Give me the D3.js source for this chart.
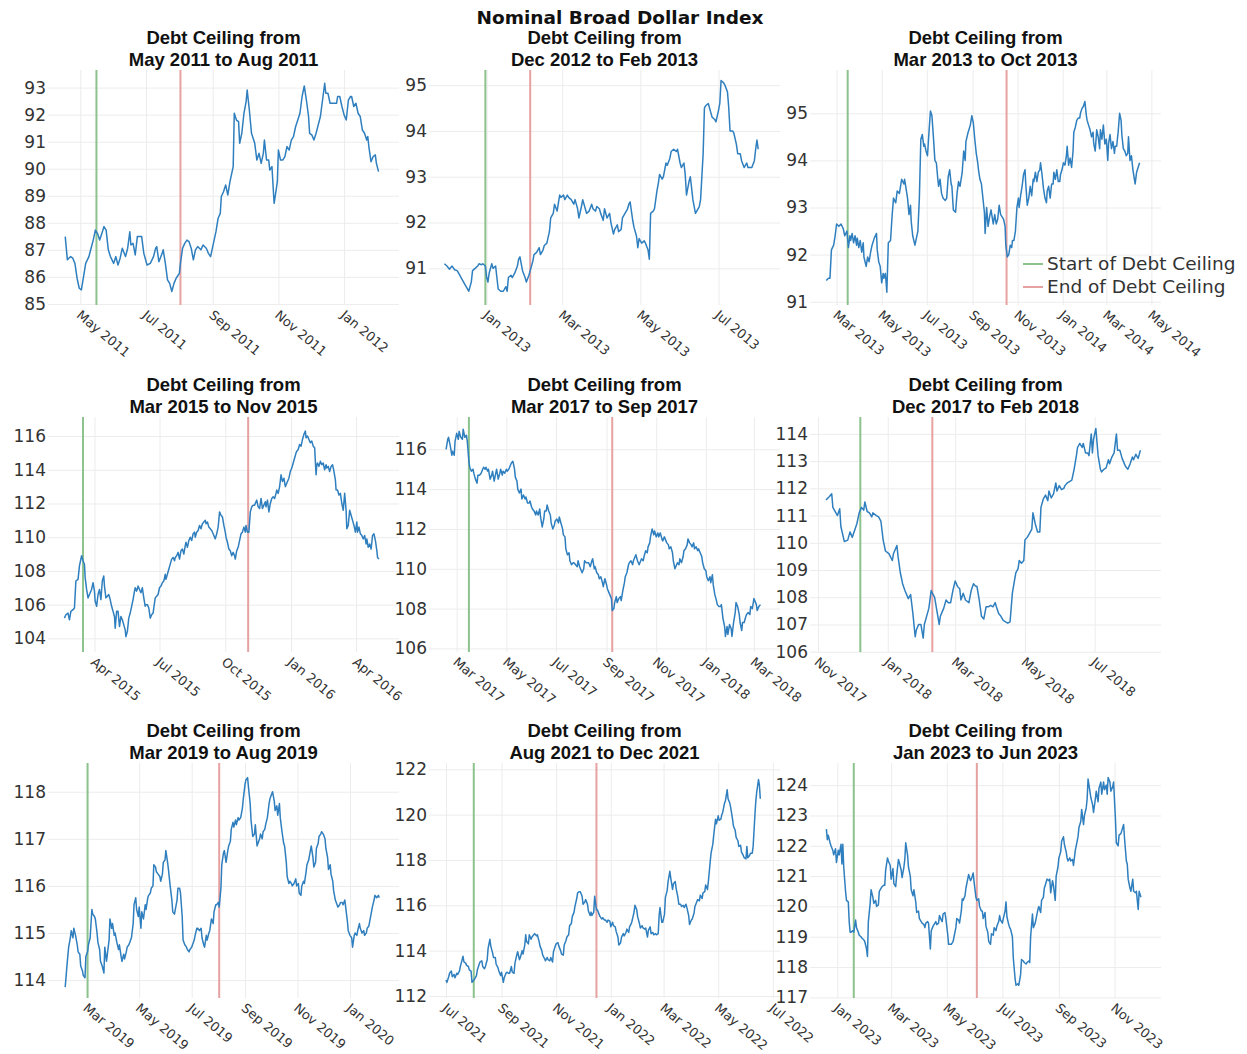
<!DOCTYPE html>
<html>
<head>
<meta charset="utf-8">
<script src="https://cdn.jsdelivr.net/npm/d3@7"></script>
<style>
  html, body { margin: 0; padding: 0; background: #ffffff; }
  svg { display: block; }
</style>
</head>
<body>
<svg id="chart" width="1247" height="1054"></svg>
<script>
// ---------------------------------------------------------------------------
// Data: Nominal Broad Dollar Index around each debt-ceiling episode.
// Each series is a list of [days since its first observation, index level].
// ---------------------------------------------------------------------------
const chartTitle = "Nominal Broad Dollar Index";
const subtitleLead = "Debt Ceiling from";
const episodeLabels = [
  "May 2011 to Aug 2011", "Dec 2012 to Feb 2013", "Mar 2013 to Oct 2013",
  "Mar 2015 to Nov 2015", "Mar 2017 to Sep 2017", "Dec 2017 to Feb 2018",
  "Mar 2019 to Aug 2019", "Aug 2021 to Dec 2021", "Jan 2023 to Jun 2023"
];
const legendLabels = ["Start of Debt Ceiling", "End of Debt Ceiling"];

const seriesStarts = [
  "2011-04-17", "2012-11-29", "2013-02-15",
  "2015-02-18", "2017-02-16", "2017-11-08",
  "2019-02-04", "2021-07-01", "2022-12-20"
];

const ceilingStarts = [
  "2011-05-16", "2012-12-31", "2013-03-16",
  "2015-03-16", "2017-03-16", "2017-12-08",
  "2019-03-02", "2021-08-01", "2023-01-19"
];
const ceilingEnds = [
  "2011-08-02", "2013-02-04", "2013-10-17",
  "2015-11-02", "2017-09-08", "2018-02-09",
  "2019-08-02", "2021-12-16", "2023-06-03"
];

const series2011 = [[0,87.49],[2,86.63],[5,86.75],[7,86.69],[9,86.5],[11,85.95],[13,85.58],[15,85.52],[18,86.25],[19,86.5],[22,86.75],[24,87.06],[26,87.36],[28,87.73],[30,87.6],[32,87.36],[34,87.6],[36,87.86],[38,87.73],[40,87.0],[42,86.75],[45,86.5],[47,86.75],[49,86.44],[51,86.69],[53,87.06],[56,86.75],[58,87.06],[60,87.67],[61,87.18],[63,87.24],[65,86.81],[67,87.49],[71,87.49],[73,86.87],[76,86.44],[79,86.5],[82,86.75],[84,87.06],[85,87.12],[87,86.56],[90,86.87],[91,87.0],[93,86.5],[95,85.89],[97,85.76],[99,85.46],[101,85.76],[103,85.95],[106,86.13],[107,86.5],[109,87.06],[111,87.24],[113,87.36],[115,87.3],[117,87.06],[119,86.63],[121,87.0],[123,87.12],[126,87.0],[128,87.18],[131,87.06],[133,86.87],[135,86.75],[137,87.12],[140,87.67],[142,88.17],[144,88.35],[145,88.97],[147,89.15],[149,89.4],[151,89.03],[153,89.52],[155,89.89],[156,90.08],[157,92.05],[159,91.8],[161,91.74],[162,90.94],[164,91.31],[166,92.05],[168,92.48],[169,92.91],[171,92.17],[173,91.31],[174,91.19],[176,90.94],[178,90.32],[180,90.57],[182,90.2],[184,90.57],[185,91.06],[187,90.32],[189,90.32],[190,89.95],[192,90.08],[194,88.72],[195,88.97],[197,89.52],[198,90.69],[200,90.32],[202,90.32],[204,90.45],[206,90.82],[208,90.69],[210,91.06],[212,91.19],[214,91.56],[216,91.8],[218,92.05],[220,92.67],[222,93.06],[224,92.54],[226,91.93],[227,91.31],[229,91.25],[231,91.06],[233,91.31],[235,91.62],[237,91.93],[239,92.54],[241,93.16],[242,92.79],[244,92.79],[246,92.42],[248,92.42],[252,92.42],[253,92.67],[255,92.67],[257,92.3],[259,91.99],[261,91.8],[263,92.54],[265,92.67],[266,92.67],[268,92.3],[270,92.42],[272,92.05],[274,91.93],[276,91.43],[278,91.31],[280,91.06],[281,91.19],[282,90.82],[284,90.26],[286,90.45],[288,90.51],[289,90.2],[291,89.89]];

const series2012 = [[0,91.1],[2,91.05],[4,90.98],[5,91.02],[6,91.05],[8,90.97],[10,90.95],[12,90.85],[14,90.75],[16,90.65],[18,90.55],[19,90.5],[21,90.7],[22,90.95],[24,91.0],[26,91.05],[27,91.1],[29,91.08],[30,91.1],[32,91.05],[33,90.8],[34,90.7],[35,90.9],[37,91.1],[38,91.0],[40,91.05],[41,90.8],[42,90.55],[44,90.5],[46,90.5],[48,90.6],[49,90.5],[50,90.8],[52,90.85],[53,90.8],[55,90.9],[57,91.05],[58,91.2],[59,91.25],[61,90.95],[63,90.8],[64,90.7],[66,90.85],[67,90.95],[69,91.15],[70,91.3],[72,91.35],[74,91.45],[75,91.3],[77,91.4],[78,91.5],[80,91.55],[82,91.8],[83,92.1],[85,92.2],[86,92.4],[88,92.25],[90,92.6],[91,92.55],[93,92.6],[94,92.5],[96,92.6],[97,92.55],[99,92.5],[101,92.4],[102,92.5],[104,92.3],[105,92.1],[107,92.35],[108,92.5],[110,92.3],[111,92.2],[113,92.25],[115,92.4],[116,92.3],[118,92.25],[119,92.35],[121,92.3],[122,92.2],[124,92.05],[125,92.3],[127,92.1],[129,92.2],[130,92.0],[132,91.75],[133,91.85],[135,91.95],[136,91.8],[138,91.85],[139,92.1],[141,92.2],[143,92.3],[144,92.4],[145,92.45],[147,92.05],[148,91.9],[150,91.7],[151,91.45],[152,91.65],[154,91.55],[156,91.6],[157,91.55],[159,91.4],[160,91.2],[161,92.2],[163,92.25],[164,92.3],[166,92.7],[167,92.85],[168,93.05],[170,92.95],[171,93.0],[173,93.3],[174,93.25],[176,93.4],[177,93.55],[179,93.6],[181,93.55],[182,93.6],[184,93.3],[185,93.2],[187,93.3],[188,93.05],[189,92.6],[191,92.9],[192,93.0],[194,92.5],[196,92.2],[197,92.25],[199,92.35],[200,92.5],[202,93.5],[203,94.5],[204,94.55],[206,94.6],[208,94.4],[209,94.3],[211,94.25],[212,94.2],[214,94.45],[215,94.6],[216,95.1],[218,95.05],[219,95.0],[221,94.85],[222,94.5],[223,94.0],[225,94.0],[226,93.95],[228,93.7],[229,93.5],[231,93.5],[232,93.35],[234,93.2],[236,93.3],[237,93.2],[239,93.2],[240,93.2],[242,93.35],[243,93.6],[244,93.8],[245,93.6]];

const series2013 = [[0,91.45],[3,91.5],[5,91.5],[7,92.1],[10,92.2],[12,92.4],[14,92.65],[17,92.6],[20,92.65],[23,92.55],[25,92.4],[28,92.5],[30,92.15],[32,92.4],[33,92.3],[35,92.45],[37,92.25],[39,92.4],[41,92.2],[42,92.35],[44,92.15],[46,92.3],[48,92.05],[50,92.25],[51,91.95],[54,91.75],[56,91.95],[58,91.85],[60,92.05],[62,92.2],[65,92.35],[68,92.45],[69,92.1],[71,91.85],[73,91.75],[75,91.4],[77,91.6],[78,91.5],[80,91.6],[82,91.2],[84,92.25],[87,92.3],[89,92.8],[91,93.2],[94,93.1],[96,93.35],[99,93.3],[102,93.6],[105,93.5],[106,93.6],[108,93.4],[110,93.2],[112,92.85],[114,93.05],[115,92.7],[117,92.4],[120,92.2],[122,92.35],[124,92.5],[126,93.2],[128,94.45],[130,94.55],[132,94.3],[133,94.35],[135,94.2],[137,94.1],[139,94.6],[141,95.05],[143,94.95],[145,94.5],[147,94.0],[149,93.95],[151,93.6],[152,93.45],[154,93.6],[156,93.3],[158,93.2],[161,93.15],[163,93.2],[165,93.65],[167,93.8],[169,93.5],[170,93.45],[172,92.95],[175,92.9],[177,93.3],[179,93.55],[181,93.45],[184,93.75],[186,94.2],[188,94.0],[189,94.4],[192,94.6],[195,94.75],[197,94.95],[199,94.8],[201,94.45],[203,94.15],[205,93.95],[206,93.8],[208,93.6],[210,93.5],[212,93.2],[214,92.9],[215,92.45],[217,93.0],[219,92.6],[221,92.8],[223,92.95],[225,92.75],[226,92.65],[228,92.85],[230,92.65],[232,92.75],[234,93.05],[236,92.85],[238,92.8],[240,92.75],[242,92.6],[243,92.2],[245,91.95],[247,92.0],[249,92.2],[251,92.15],[252,92.3],[254,92.3],[256,92.5],[258,93.0],[260,93.2],[261,93.0],[263,93.25],[265,93.45],[267,93.7],[269,93.8],[270,93.5],[272,93.05],[274,93.2],[276,93.45],[278,93.25],[280,93.6],[281,93.55],[283,93.75],[285,93.55],[287,93.75],[289,93.8],[290,93.95],[292,93.7],[294,93.4],[296,93.2],[298,93.1],[299,93.35],[301,93.45],[303,93.2],[305,93.5],[307,93.5],[308,93.75],[310,93.6],[312,93.8],[314,93.55],[316,93.55],[317,93.7],[319,93.8],[321,93.95],[323,93.9],[325,94.1],[326,94.3],[328,93.9],[330,94.05],[332,93.85],[334,94.2],[335,94.6],[337,94.7],[339,94.85],[341,94.9],[343,94.9],[344,95.0],[346,95.1],[348,95.15],[350,95.25],[352,94.95],[353,94.85],[355,94.75],[357,94.65],[359,94.5],[361,94.6],[362,94.35],[364,94.2],[366,94.65],[368,94.5],[370,94.25],[371,94.65],[373,94.45],[375,94.75],[377,94.35],[379,94.45],[381,94.0],[382,94.35],[384,94.55],[386,94.25],[388,94.4],[390,94.15],[391,94.3],[393,94.3],[395,94.6],[397,95.0],[399,94.85],[400,94.55],[402,94.25],[404,94.2],[406,94.1],[408,94.15],[409,94.5],[411,94.0],[413,94.1],[415,93.8],[417,93.6],[418,93.5],[420,93.75],[422,93.85],[424,93.95]];

const series2015 = [[0,105.2],[2,105.4],[5,105.5],[7,105.1],[9,105.6],[12,105.7],[14,105.8],[16,107.4],[19,107.5],[21,108.3],[24,108.9],[26,108.6],[28,108.4],[29,107.6],[31,106.9],[33,106.4],[35,106.6],[38,106.9],[40,107.3],[42,106.8],[43,106.2],[45,105.9],[47,106.6],[49,106.9],[51,106.3],[53,107.4],[55,107.7],[56,107.1],[58,106.4],[60,106.5],[62,106.6],[64,106.3],[66,105.9],[68,105.6],[70,105.3],[71,104.6],[73,105.6],[75,105.6],[77,104.7],[79,105.3],[81,105.1],[83,104.8],[85,104.5],[86,104.1],[88,104.4],[90,105.2],[92,105.5],[94,105.9],[96,106.3],[98,106.8],[99,107.0],[101,106.8],[103,107.1],[105,106.9],[107,106.7],[109,107.0],[111,106.4],[113,105.9],[114,106.0],[116,106.0],[118,105.8],[120,105.2],[122,105.4],[124,105.5],[126,106.1],[127,106.4],[129,106.5],[131,106.6],[133,107.0],[135,107.1],[137,107.3],[139,107.4],[141,107.8],[142,107.5],[144,107.8],[146,108.1],[148,108.4],[150,108.7],[152,108.8],[154,108.6],[155,108.8],[157,108.9],[159,109.1],[161,108.7],[163,109.2],[165,109.3],[167,109.0],[169,109.5],[170,109.7],[172,109.4],[174,109.8],[176,110.0],[178,109.8],[180,110.2],[182,110.3],[183,110.0],[185,110.3],[187,110.4],[189,110.7],[191,110.5],[193,110.8],[195,110.9],[197,111.0],[198,110.8],[200,110.9],[202,110.6],[204,110.5],[206,110.4],[208,110.2],[210,110.0],[211,109.9],[213,110.2],[215,110.6],[217,111.5],[219,111.3],[221,111.2],[223,110.7],[225,110.3],[226,110.0],[228,109.7],[230,109.3],[232,109.2],[234,108.9],[236,109.1],[238,108.9],[239,108.7],[241,109.2],[243,109.4],[245,109.8],[247,110.2],[249,110.3],[251,110.6],[253,110.3],[254,110.7],[256,110.3],[258,110.3],[260,111.5],[262,111.8],[264,111.9],[266,111.9],[268,112.1],[269,112.2],[271,111.8],[273,111.7],[275,112.3],[277,111.7],[279,111.9],[281,112.1],[282,111.8],[284,112.2],[286,111.5],[288,112.0],[290,112.3],[292,112.4],[294,112.3],[296,112.6],[297,112.8],[299,112.6],[301,113.0],[303,113.7],[305,113.3],[307,113.5],[309,113.0],[310,113.1],[312,113.3],[314,113.5],[316,113.9],[318,114.1],[320,114.4],[322,114.7],[324,115.0],[325,115.1],[327,115.2],[329,115.5],[331,115.4],[333,115.8],[335,116.1],[337,116.3],[338,115.9],[340,116.0],[342,115.8],[344,115.6],[346,115.7],[348,115.4],[350,115.3],[352,113.7],[353,114.3],[354,114.4],[356,114.2],[358,114.5],[360,114.3],[362,114.4],[364,114.0],[366,114.3],[367,114.1],[369,114.2],[371,113.9],[373,114.2],[375,114.3],[377,113.9],[379,113.4],[380,112.8],[382,112.8],[384,112.5],[386,112.6],[388,112.0],[390,111.6],[392,112.6],[394,111.6],[395,110.5],[397,110.7],[399,111.6],[401,111.3],[403,111.0],[405,110.7],[407,110.3],[409,110.9],[410,110.3],[412,110.6],[414,110.2],[416,110.1],[418,109.9],[420,110.1],[422,109.6],[423,109.9],[425,109.4],[427,109.6],[429,109.3],[431,110.1],[433,110.2],[435,109.8],[437,109.2],[438,108.8],[440,108.7]];

const series2017 = [[0,116.0],[2,116.5],[3,116.6],[5,116.2],[7,115.7],[8,115.9],[10,115.7],[11,116.4],[13,116.8],[15,116.5],[16,116.9],[18,116.6],[20,116.5],[21,117.0],[23,116.6],[25,116.7],[26,116.4],[28,115.4],[29,115.1],[31,114.9],[33,115.0],[34,114.8],[36,114.5],[38,114.3],[39,114.7],[41,114.7],[43,114.8],[44,114.9],[46,115.1],[48,115.0],[49,115.1],[51,114.9],[52,115.0],[54,114.5],[56,114.7],[57,114.9],[59,114.4],[61,114.8],[62,115.0],[64,114.5],[66,114.8],[67,115.0],[69,114.7],[70,114.9],[72,114.8],[74,115.0],[75,114.9],[77,115.0],[79,115.2],[80,115.3],[82,115.4],[84,115.0],[85,114.6],[87,114.4],[88,114.0],[90,113.8],[92,114.0],[93,113.5],[95,113.7],[97,113.5],[98,113.6],[100,113.3],[102,113.3],[103,113.4],[105,113.1],[106,113.0],[108,112.9],[110,112.7],[111,112.9],[113,112.7],[115,113.0],[116,112.6],[118,112.1],[120,112.5],[121,112.9],[123,112.9],[124,113.2],[126,112.9],[128,112.7],[129,112.3],[131,112.0],[133,112.2],[134,112.4],[136,112.5],[138,112.3],[139,112.6],[141,112.3],[143,112.0],[144,111.7],[146,111.6],[147,111.0],[149,110.7],[151,110.8],[152,110.4],[154,110.2],[156,110.3],[157,110.3],[159,110.2],[161,110.1],[162,110.4],[164,110.1],[165,110.0],[167,109.8],[169,110.0],[170,110.4],[172,110.3],[174,110.3],[175,110.3],[177,110.1],[179,110.4],[180,110.5],[182,110.0],[183,110.1],[185,109.8],[187,109.7],[188,109.5],[190,109.6],[192,109.3],[193,109.1],[195,109.5],[197,109.2],[198,109.0],[200,108.8],[201,108.7],[203,108.5],[204,107.9],[206,108.0],[207,108.3],[209,108.6],[210,108.3],[212,108.5],[214,108.6],[215,108.4],[217,108.9],[219,109.3],[220,109.6],[222,109.8],[224,110.2],[225,110.3],[227,110.4],[229,110.2],[230,110.4],[232,110.6],[233,110.7],[235,110.4],[237,110.2],[238,110.3],[240,110.5],[242,110.4],[243,110.6],[245,110.9],[247,110.8],[248,111.1],[250,111.3],[251,111.6],[253,112.0],[255,111.7],[256,111.9],[258,111.6],[260,111.8],[261,111.6],[263,111.8],[265,111.5],[266,111.4],[268,111.6],[269,111.5],[271,111.3],[273,111.2],[274,111.0],[276,111.1],[278,110.8],[279,110.4],[281,110.0],[283,110.2],[284,110.3],[286,110.2],[287,110.5],[289,110.3],[291,110.6],[292,110.9],[294,111.0],[296,111.2],[297,111.5],[299,111.3],[301,111.2],[302,111.1],[304,111.3],[305,111.0],[307,111.1],[309,110.9],[310,111.0],[312,110.8],[314,110.6],[315,110.3],[317,110.0],[319,109.9],[320,109.6],[322,109.4],[324,109.6],[325,109.3],[327,109.7],[328,109.2],[330,108.7],[332,108.4],[333,108.2],[335,108.1],[337,108.1],[338,108.2],[340,107.5],[342,107.1],[343,106.6],[345,107.1],[346,106.7],[348,107.2],[350,107.0],[351,106.6],[353,107.3],[355,107.8],[356,108.3],[358,108.1],[360,107.7],[361,107.3],[363,106.9],[364,107.3],[366,107.3],[368,107.6],[369,107.7],[371,107.8],[373,107.7],[374,108.1],[376,108.0],[378,108.5],[379,108.4],[381,108.2],[382,107.9],[384,108.1],[386,108.2]];

const series2017b = [[0,111.57],[3,111.7],[5,111.8],[6,111.3],[10,111.0],[12,111.25],[13,110.6],[16,110.05],[19,110.1],[21,110.4],[23,110.2],[25,110.45],[27,110.7],[29,111.1],[31,111.3],[33,111.2],[34,111.5],[36,111.15],[38,111.1],[40,110.95],[41,111.1],[44,111.0],[46,110.95],[48,110.8],[50,110.1],[52,109.7],[55,109.6],[58,109.35],[59,109.6],[62,109.9],[63,109.5],[65,108.9],[67,108.5],[69,108.25],[72,107.95],[74,108.1],[76,107.4],[78,106.55],[79,106.8],[81,107.0],[83,107.0],[85,106.5],[86,107.0],[88,107.3],[90,107.6],[92,108.25],[93,108.15],[95,108.0],[97,107.5],[99,107.0],[100,107.3],[103,107.6],[105,107.9],[107,107.8],[109,107.8],[111,108.25],[113,108.6],[115,108.4],[117,108.3],[118,107.9],[120,108.15],[122,107.9],[125,107.8],[127,108.25],[129,108.5],[131,108.4],[132,108.4],[134,107.9],[136,107.3],[138,107.2],[140,107.65],[142,107.65],[144,107.7],[146,107.65],[148,107.8],[149,107.65],[151,107.4],[153,107.3],[155,107.15],[157,107.1],[159,107.05],[161,107.1],[163,108.15],[164,108.4],[166,108.9],[168,109.05],[169,109.35],[171,109.25],[173,109.35],[174,110.1],[176,110.2],[178,110.35],[180,110.5],[181,111.1],[183,110.7],[185,110.4],[187,110.4],[188,111.3],[190,111.6],[192,111.75],[194,111.55],[195,111.9],[197,111.65],[199,111.8],[201,112.2],[202,111.9],[204,112.1],[206,111.95],[208,112.0],[209,112.1],[211,112.2],[213,112.25],[215,112.3],[217,112.7],[219,113.2],[220,113.5],[222,113.65],[224,113.5],[225,113.65],[227,113.3],[229,113.3],[230,113.2],[232,114.0],[233,113.3],[234,113.8],[236,114.2],[238,113.2],[240,112.7],[241,112.6],[243,112.7],[245,112.75],[247,113.05],[248,112.9],[250,113.15],[252,113.3],[254,114.0],[255,113.4],[257,113.4],[259,113.1],[261,112.9],[262,112.8],[264,112.7],[266,112.9],[268,113.15],[269,113.05],[271,113.25],[273,113.1],[275,113.4]];

const series2019 = [[0,113.85],[2,114.3],[4,114.7],[6,114.9],[7,115.05],[9,114.9],[10,115.1],[12,114.95],[14,114.75],[15,114.6],[17,114.55],[18,114.3],[20,114.2],[21,114.1],[23,114.05],[24,114.5],[26,114.6],[27,114.75],[29,114.9],[31,115.5],[32,115.4],[34,115.35],[35,115.3],[37,115.0],[38,114.8],[40,114.65],[41,114.4],[43,114.3],[45,114.15],[46,114.7],[48,114.4],[49,114.55],[51,114.85],[52,115.3],[54,115.1],[55,115.2],[57,114.95],[58,115.0],[60,114.8],[62,114.65],[63,114.75],[65,114.5],[66,114.4],[68,114.55],[69,114.45],[71,114.6],[72,114.7],[74,114.75],[75,114.8],[77,114.9],[79,115.2],[80,115.6],[82,115.75],[83,115.5],[85,115.35],[86,115.55],[88,115.1],[89,115.45],[91,115.3],[93,115.6],[94,115.5],[96,115.75],[97,115.8],[99,115.85],[100,115.95],[102,116.0],[103,116.45],[105,116.4],[106,116.3],[108,116.25],[110,116.2],[111,116.1],[113,116.25],[114,116.5],[116,116.55],[117,116.75],[119,116.5],[120,116.35],[122,116.0],[124,115.7],[125,115.45],[127,115.4],[128,115.5],[130,115.7],[131,115.95],[133,115.95],[134,115.85],[136,115.35],[137,114.85],[139,114.75],[141,114.7],[142,114.65],[144,114.6],[145,114.65],[147,114.7],[148,114.75],[150,114.85],[151,114.95],[153,115.1],[154,115.1],[156,115.05],[158,115.1],[159,114.9],[161,114.75],[162,114.7],[164,114.95],[165,114.85],[167,115.0],[168,115.05],[170,115.3],[172,115.2],[173,115.45],[175,115.6],[176,115.6],[178,115.65],[179,115.55],[181,115.95],[182,116.45],[184,116.7],[185,116.75],[187,116.5],[189,116.75],[190,116.85],[192,116.95],[193,117.2],[195,117.35],[196,117.25],[198,117.4],[199,117.3],[201,117.45],[202,117.4],[204,117.45],[206,117.65],[207,117.85],[209,118.15],[210,118.25],[212,118.3],[213,118.1],[215,117.75],[216,117.4],[218,117.05],[220,117.1],[221,117.3],[223,116.85],[224,116.9],[226,117.0],[227,117.1],[229,117.0],[230,117.15],[232,117.2],[233,117.3],[235,117.45],[237,117.75],[238,117.85],[240,117.95],[241,118.0],[243,117.8],[244,117.6],[246,117.7],[247,117.5],[249,117.75],[250,117.45],[252,117.15],[254,116.9],[255,116.85],[257,116.5],[258,116.2],[260,116.05],[261,116.1],[263,116.05],[264,116.0],[266,116.05],[268,116.15],[269,116.0],[271,116.05],[272,115.85],[274,115.8],[275,116.0],[277,116.1],[278,116.05],[280,116.3],[281,116.45],[283,116.55],[285,116.75],[286,116.85],[288,116.6],[289,116.4],[291,116.5],[292,116.8],[294,116.9],[295,117.05],[297,117.1],[298,117.15],[300,117.1],[302,117.0],[303,116.8],[305,116.6],[306,116.35],[308,116.45],[309,116.25],[311,116.1],[312,115.9],[314,115.7],[316,115.6],[317,115.55],[319,115.6],[320,115.65],[322,115.65],[323,115.6],[325,115.7],[326,115.55],[328,115.25],[329,115.05],[331,114.95],[333,114.9],[334,114.7],[336,114.95],[337,115.0],[339,114.95],[340,115.05],[342,115.2],[343,115.1],[345,115.0],[347,115.05],[348,114.95],[350,115.0],[351,115.1],[353,115.15],[354,115.25],[356,115.45],[357,115.55],[359,115.7],[360,115.8],[362,115.75],[364,115.8],[365,115.75]];

const series2021 = [[0,112.7],[1,112.6],[3,112.85],[4,113.0],[6,113.1],[7,112.85],[9,112.95],[10,112.8],[12,113.0],[13,112.95],[15,113.1],[16,113.3],[17,113.45],[19,113.75],[20,113.5],[22,113.45],[23,113.35],[25,113.3],[26,113.15],[28,113.1],[29,112.6],[31,112.7],[32,112.75],[34,112.9],[35,113.15],[37,113.4],[38,113.5],[40,113.55],[41,113.3],[43,113.2],[44,113.3],[46,113.6],[47,114.1],[49,114.5],[50,114.2],[52,113.9],[53,113.7],[55,113.7],[56,113.4],[58,113.25],[59,113.1],[61,112.9],[62,113.05],[64,112.6],[65,112.8],[67,113.0],[68,113.05],[70,113.0],[71,113.0],[73,113.3],[74,113.05],[76,113.0],[77,113.45],[79,113.8],[80,113.95],[82,113.6],[83,113.7],[85,114.0],[86,113.85],[88,114.25],[89,114.7],[90,114.4],[92,114.3],[93,114.7],[95,114.5],[96,114.6],[98,114.7],[99,114.75],[101,114.65],[102,114.7],[104,114.4],[105,114.2],[107,114.0],[108,113.8],[110,113.65],[111,113.55],[113,113.7],[114,113.6],[116,113.55],[117,113.7],[119,113.5],[120,113.95],[122,114.2],[123,114.3],[125,114.35],[126,114.2],[128,114.0],[129,113.85],[131,113.8],[132,114.25],[134,114.45],[135,114.6],[137,114.7],[138,115.1],[140,115.2],[141,115.5],[143,115.7],[144,115.95],[146,116.3],[147,116.55],[149,116.6],[150,116.6],[152,116.4],[153,116.05],[155,116.15],[156,116.25],[158,116.05],[159,115.75],[161,115.55],[162,115.7],[163,115.55],[165,115.7],[166,116.4],[168,115.8],[169,115.8],[171,115.6],[172,115.5],[174,115.4],[175,115.45],[177,115.35],[178,115.35],[180,115.25],[181,115.35],[183,115.3],[184,115.05],[186,115.25],[187,115.1],[189,115.05],[190,114.85],[192,114.6],[193,114.25],[195,114.35],[196,114.6],[198,114.75],[199,114.65],[201,114.8],[202,114.95],[204,114.8],[205,115.05],[207,115.2],[208,115.35],[210,115.7],[211,116.0],[213,115.8],[214,115.5],[216,115.2],[217,115.0],[219,115.1],[220,115.0],[222,114.95],[223,115.0],[225,114.6],[226,114.9],[228,115.05],[229,114.75],[231,114.8],[232,114.7],[234,114.75],[235,114.7],[237,114.75],[238,115.55],[239,115.9],[241,115.25],[242,115.25],[244,115.6],[245,116.35],[247,116.65],[248,117.05],[250,117.5],[251,117.2],[253,116.7],[254,116.95],[256,117.05],[257,116.75],[259,116.35],[260,116.05],[262,116.05],[263,115.95],[265,116.0],[266,115.9],[268,116.05],[269,115.9],[271,115.55],[272,115.15],[274,115.35],[275,115.4],[277,115.65],[278,115.95],[280,116.15],[281,116.25],[283,116.2],[284,116.45],[286,116.3],[287,116.55],[289,116.6],[290,116.9],[292,116.7],[293,117.05],[295,117.9],[296,118.3],[298,118.7],[299,119.1],[301,119.8],[302,119.6],[304,119.95],[305,119.75],[307,119.8],[308,120.0],[309,120.1],[311,120.5],[312,120.6],[314,121.1],[315,120.7],[317,120.5],[318,120.3],[320,119.8],[321,119.5],[323,119.3],[324,119.0],[326,118.85],[327,118.6],[329,118.65],[330,118.35],[332,118.2],[333,118.1],[335,118.05],[336,118.6],[337,118.1],[339,118.2],[340,118.3],[342,118.3],[343,118.6],[345,120.0],[346,120.6],[347,121.0],[349,121.55],[350,121.3],[351,120.7]];

const series2023 = [[0,122.55],[1,122.2],[2,122.35],[4,122.1],[5,122.0],[7,121.85],[8,121.7],[10,121.9],[11,121.45],[13,121.85],[14,121.7],[16,122.05],[17,121.4],[18,122.05],[19,121.3],[21,120.5],[22,120.2],[24,120.15],[25,119.5],[26,119.15],[27,119.15],[29,119.2],[30,119.15],[32,119.55],[33,119.3],[35,119.15],[36,119.05],[38,119.0],[39,118.95],[41,118.9],[42,118.85],[44,118.6],[45,118.35],[46,119.5],[48,120.1],[49,120.55],[51,120.3],[52,120.1],[54,120.2],[55,120.0],[57,120.05],[58,120.5],[60,120.6],[61,120.65],[63,120.7],[64,120.7],[65,121.2],[67,121.6],[68,121.5],[70,121.35],[71,120.9],[73,121.25],[74,120.75],[76,120.65],[77,121.0],[79,121.55],[80,121.45],[82,121.2],[83,120.95],[85,121.3],[86,121.55],[87,122.1],[89,121.7],[90,121.3],[92,121.0],[93,120.55],[95,120.35],[96,120.55],[98,120.15],[99,119.8],[101,119.85],[102,119.6],[104,119.5],[105,119.45],[107,119.4],[108,119.3],[109,119.45],[111,119.5],[112,119.45],[114,118.6],[115,119.2],[117,119.35],[118,119.4],[120,119.5],[121,119.4],[123,119.45],[124,119.7],[126,119.55],[127,119.5],[128,119.75],[130,119.8],[131,119.6],[133,119.1],[134,118.75],[136,118.75],[137,118.75],[139,118.85],[140,119.0],[142,119.3],[143,119.6],[145,119.55],[146,119.45],[148,119.85],[149,120.25],[150,120.2],[152,120.35],[153,120.6],[155,120.9],[156,121.05],[158,120.85],[159,120.9],[161,121.1],[162,120.8],[164,120.3],[165,120.2],[167,120.25],[168,120.0],[170,119.85],[171,119.85],[172,119.6],[174,119.8],[175,119.35],[177,119.15],[178,118.85],[180,118.75],[181,119.1],[183,119.05],[184,119.3],[186,119.2],[187,119.35],[189,119.5],[190,119.7],[191,119.55],[193,119.45],[194,119.6],[196,119.85],[197,120.15],[198,119.65],[200,119.4],[201,119.3],[202,119.25],[204,119.0],[205,118.3],[207,117.6],[208,117.4],[210,117.45],[211,117.4],[213,117.75],[214,118.25],[216,118.2],[217,118.15],[219,118.1],[220,118.15],[222,118.2],[223,118.15],[224,119.0],[226,119.75],[227,119.3],[229,119.45],[230,119.6],[232,119.9],[233,120.0],[235,119.8],[236,120.2],[238,120.3],[239,120.6],[241,120.8],[242,120.9],[244,120.85],[245,120.9],[246,120.45],[248,120.85],[249,120.7],[251,120.2],[252,121.0],[254,121.3],[255,121.6],[257,121.8],[258,122.15],[260,122.3],[261,122.05],[263,121.8],[264,121.6],[265,121.5],[267,121.6],[268,121.5],[270,121.55],[271,121.35],[273,121.85],[274,122.0],[276,122.3],[277,122.6],[279,122.8],[280,123.2],[282,122.7],[283,123.0],[285,123.25],[286,123.55],[287,124.2],[289,123.8],[290,123.6],[292,123.35],[293,123.1],[295,123.55],[296,123.8],[298,123.45],[299,123.9],[301,124.1],[302,123.7],[304,124.1],[305,123.85],[307,124.0],[308,123.7],[309,124.25],[311,124.1],[312,123.8],[314,123.95],[315,124.1],[317,122.9],[318,122.1],[320,122.0],[321,122.35],[323,122.4],[324,122.5],[326,122.7],[327,122.25],[329,121.5],[330,121.4],[331,120.9],[333,120.6],[334,120.5],[336,120.9],[337,120.5],[339,120.45],[340,120.5],[342,119.9],[343,120.5],[345,120.3]];

const allSeries = [series2011, series2012, series2013, series2015, series2017,
                   series2017b, series2019, series2021, series2023];

// Axis settings for each small multiple
const xRanges = [
  ["2011-04-01", "2012-02-21"], ["2012-11-17", "2013-08-18"], ["2013-01-24", "2014-05-14"],
  ["2015-01-26", "2016-05-31"], ["2017-01-26", "2018-04-02"], ["2017-10-25", "2018-08-28"],
  ["2019-01-15", "2020-02-27"], ["2021-06-12", "2022-07-09"], ["2022-12-02", "2023-12-22"]
];
const yRanges = [
  [84.96, 93.65], [90.2, 95.33], [90.93, 95.92],
  [103.19, 117.13], [105.82, 117.62], [105.99, 114.62],
  [113.62, 118.61], [111.91, 122.28], [116.98, 124.73]
];
const yTickValues = [
  [85, 86, 87, 88, 89, 90, 91, 92, 93],
  [91, 92, 93, 94, 95],
  [91, 92, 93, 94, 95],
  [104, 106, 108, 110, 112, 114, 116],
  [106, 108, 110, 112, 114, 116],
  [106, 107, 108, 109, 110, 111, 112, 113, 114],
  [114, 115, 116, 117, 118],
  [112, 114, 116, 118, 120, 122],
  [117, 118, 119, 120, 121, 122, 123, 124]
];
const xTickMonthStep = [2, 2, 2, 3, 2, 2, 2, 2, 2];

// ---------------------------------------------------------------------------
// Layout and styling
// ---------------------------------------------------------------------------
const colBounds = [[48, 399], [429, 780], [810, 1161]];
const rowBounds = [[70, 305], [417, 652], [763, 998]];
const lineColor = "#2f7fbf";
const startColor = "#8cc28c";
const endColor = "#e6a1a1";
const gridColor = "#ececec";
const tickFont = "'DejaVu Sans', Verdana, sans-serif";
const titleFont = "'Liberation Sans', Arial, sans-serif";

const parseDay = d3.utcParse("%Y-%m-%d");
const fmtMonth = d3.utcFormat("%b %Y");
const fmtLevel = d3.format("d");
const DAY_MS = 864e5;

const svg = d3.select("#chart");
svg.append("rect").attr("width", 1247).attr("height", 1054).attr("fill", "#fff");

svg.append("text")
  .attr("x", 620).attr("y", 23.5)
  .attr("text-anchor", "middle")
  .style("font-family", tickFont)
  .style("font-weight", "bold")
  .style("font-size", "18.5px")
  .style("fill", "#111")
  .text(chartTitle);

allSeries.forEach((points, i) => {
  const [x0, x1] = colBounds[i % 3];
  const [y0, y1] = rowBounds[Math.floor(i / 3)];
  const start = parseDay(seriesStarts[i]).getTime();
  const data = points.map(([d, v]) => ({ date: new Date(start + d * DAY_MS), value: v }));

  const x = d3.scaleUtc().domain(xRanges[i].map(parseDay)).range([x0, x1]);
  const y = d3.scaleLinear().domain(yRanges[i]).range([y1, y0]);
  const xTicks = x.ticks(d3.utcMonth.every(xTickMonthStep[i]));

  const panel = svg.append("g").attr("class", "panel");

  // gridlines
  const gy = panel.append("g").attr("transform", `translate(${x0},0)`)
    .call(d3.axisLeft(y).tickValues(yTickValues[i]).tickSize(-(x1 - x0)).tickFormat(""));
  gy.select(".domain").remove();
  gy.selectAll("line").attr("stroke", gridColor).attr("stroke-width", 1);

  const gx = panel.append("g").attr("transform", `translate(0,${y1})`)
    .call(d3.axisBottom(x).tickValues(xTicks).tickSize(-(y1 - y0)).tickFormat(""));
  gx.select(".domain").remove();
  gx.selectAll("line").attr("stroke", gridColor).attr("stroke-width", 1);

  // y tick labels
  const ay = panel.append("g").attr("transform", `translate(${x0},0)`)
    .call(d3.axisLeft(y).tickValues(yTickValues[i]).tickSize(0).tickPadding(2).tickFormat(fmtLevel));
  ay.select(".domain").remove();
  ay.selectAll("text")
    .style("font-family", tickFont).style("font-size", "17px").style("fill", "#333");

  // x tick labels, angled
  const ax = panel.append("g").attr("transform", `translate(0,${y1})`)
    .call(d3.axisBottom(x).tickValues(xTicks).tickSize(0).tickFormat(fmtMonth));
  ax.select(".domain").remove();
  ax.selectAll("text")
    .attr("x", 0).attr("y", 0).attr("dy", "0.35em")
    .attr("text-anchor", "start")
    .attr("transform", "translate(-2,8) rotate(40)")
    .style("font-family", tickFont).style("font-size", "13px").style("fill", "#333");

  // debt ceiling markers
  const xs = x(parseDay(ceilingStarts[i]));
  const xe = x(parseDay(ceilingEnds[i]));
  panel.append("line").attr("x1", xs).attr("x2", xs).attr("y1", y0).attr("y2", y1)
    .attr("stroke", startColor).attr("stroke-width", 2);
  panel.append("line").attr("x1", xe).attr("x2", xe).attr("y1", y0).attr("y2", y1)
    .attr("stroke", endColor).attr("stroke-width", 2);

  // index line
  panel.append("path").datum(data)
    .attr("fill", "none")
    .attr("stroke", lineColor)
    .attr("stroke-width", 1.5)
    .attr("stroke-linejoin", "round")
    .attr("d", d3.line().x(d => x(d.date)).y(d => y(d.value)));

  // subplot title
  const cx = (x0 + x1) / 2;
  const title = panel.append("text")
    .attr("text-anchor", "middle")
    .style("font-family", titleFont).style("font-weight", "bold")
    .style("font-size", "18.5px").style("fill", "#111");
  title.append("tspan").attr("x", cx).attr("y", y0 - 26).text(subtitleLead);
  title.append("tspan").attr("x", cx).attr("y", y0 - 4).text(episodeLabels[i]);
});

// legend
const legend = svg.append("g").attr("class", "legend");
[[startColor, 264], [endColor, 287]].forEach(([c, ly], k) => {
  legend.append("line").attr("x1", 1023).attr("x2", 1043).attr("y1", ly).attr("y2", ly)
    .attr("stroke", c).attr("stroke-width", 2);
  legend.append("text").attr("x", 1047).attr("y", ly).attr("dy", "0.35em")
    .style("font-family", tickFont).style("font-size", "18.5px").style("fill", "#333")
    .text(legendLabels[k]);
});
</script>
</body>
</html>
